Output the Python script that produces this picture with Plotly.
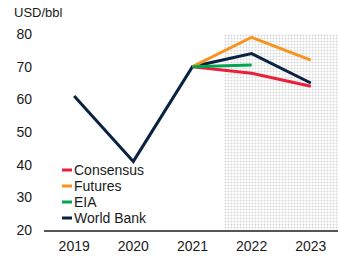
import plotly.graph_objects as go

years = [2019, 2020, 2021, 2022, 2023]
world_bank = [61, 41, 70, 74, 65]
futures_years = [2021, 2022, 2023]
futures = [70, 79, 72]
eia_years = [2021, 2022]
eia = [70, 70.5]
consensus_years = [2021, 2022, 2023]
consensus = [70, 68, 64]

forecast_start = 2021.54
forecast_end = 2023.5
y_min, y_max = 20, 80

series = [
    ("Consensus", consensus_years, consensus, "#e8203a"),
    ("Futures", futures_years, futures, "#f7941d"),
    ("EIA", eia_years, eia, "#00a651"),
    ("World Bank", years, world_bank, "#0a2342"),
]

FONT = "Liberation Sans, Arial, sans-serif"
W, H = 338, 256
L, R, T, B = 44, 0, 34, 26
PW, PH = W - L - R, H - T - B

def px(sx):
    return (sx - L) / PW

def py(sy):
    return 1 - (sy - T) / PH

fig = go.Figure()

# forecast shaded area (dotted pattern)
fig.add_trace(go.Bar(
    x=[(forecast_start + forecast_end) / 2], y=[y_max - y_min], base=[y_min],
    width=[forecast_end - forecast_start],
    marker=dict(color="white", line=dict(width=0),
                pattern=dict(shape=".", fgcolor="#b0b0b0", bgcolor="white", size=3, solidity=0.35)),
    showlegend=False, hoverinfo="skip",
))

for i in [3, 0, 1, 2]:
    name, xs, ys, col = series[i]
    fig.add_trace(go.Scatter(x=xs, y=ys, mode="lines", name=name,
                             line=dict(color=col, width=3), showlegend=False))

# legend built from the series list
for k, (name, xs, ys, col) in enumerate(series):
    sy = 170 + 16 * k
    fig.add_shape(type="line", xref="paper", yref="paper",
                  x0=px(62), x1=px(72), y0=py(sy), y1=py(sy),
                  line=dict(color=col, width=3))
    fig.add_annotation(
        xref="paper", yref="paper", x=px(72), y=py(sy),
        text=name, showarrow=False, xanchor="left", yanchor="middle",
        font=dict(family=FONT, size=14, color="#1a1a1a"),
    )

fig.add_annotation(
    xref="paper", yref="paper", x=px(12), y=py(13), text="USD/bbl",
    showarrow=False, xanchor="left", yanchor="middle",
    font=dict(family=FONT, size=13, color="#1a1a1a"),
)

fig.update_layout(
    width=W, height=H,
    margin=dict(l=L, r=R, t=T, b=B, autoexpand=False),
    paper_bgcolor="white", plot_bgcolor="white",
    font=dict(family=FONT, size=14, color="#1a1a1a"),
    bargap=0,
)
fig.update_xaxes(range=[2018.49, 2023.46], tickvals=years, ticktext=[str(y) for y in years],
                 showgrid=False, zeroline=False, showline=True, linecolor="#555555", linewidth=1.5,
                 ticks="", ticklabelstandoff=2)
fig.update_yaxes(range=[y_min, y_max], tickvals=[20, 30, 40, 50, 60, 70, 80],
                 showgrid=False, zeroline=False, showline=False, ticks="", ticklabelstandoff=11)

fig.write_html(
    "out.html",
    config={"displayModeBar": False},
    post_script="document.body.style.margin='0';document.documentElement.style.overflow='hidden';",
)
